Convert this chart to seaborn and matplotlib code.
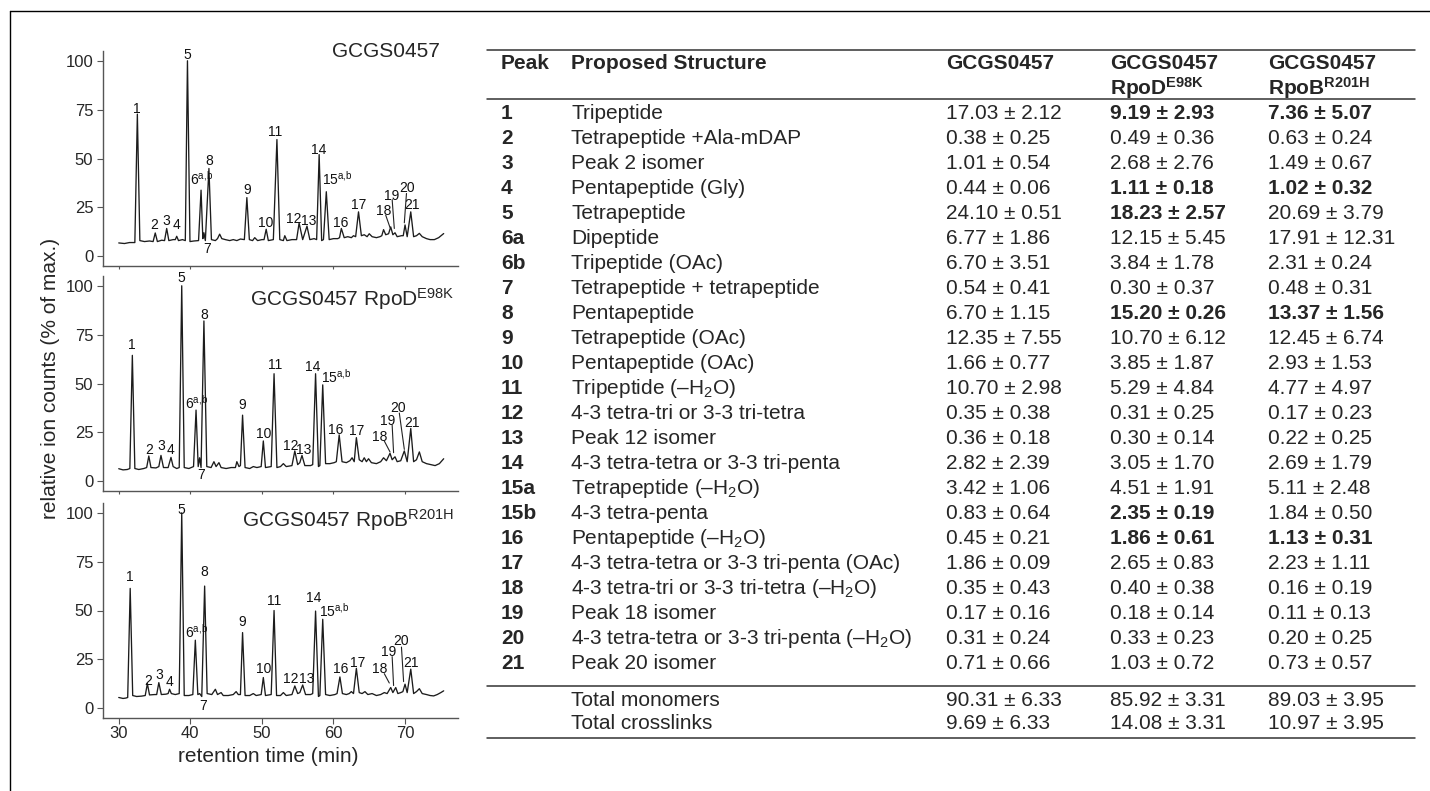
import numpy as np
import pandas as pd
import seaborn as sns
import matplotlib.pyplot as plt

# ---- chromatograms: (retention time [min], relative ion counts [% of max])
trace_wt = [(30.0, 6.8), (30.8, 6.5), (31.5, 7.0), (32.25, 7.0), (32.6, 72.7), (32.95, 8.0), (33.6, 7.5),
            (34.3, 7.8), (34.8, 7.5), (35.1, 11.9), (35.4, 7.5), (36.0, 8.2), (36.4, 8.0), (36.7, 14.2),
            (37.0, 8.0), (37.6, 8.5), (37.9, 8.5), (38.1, 10.2), (38.35, 8.0), (38.9, 8.5), (39.3, 8.0),
            (39.6, 100.0), (39.95, 7.5), (40.5, 7.8), (41.15, 8.0), (41.5, 33.8), (41.75, 9.0), (41.9, 12.0),
            (42.1, 8.0), (42.6, 44.9), (42.95, 8.5), (43.5, 8.0), (43.8, 9.0), (44.1, 11.3), (44.4, 9.0),
            (44.9, 8.5), (45.5, 8.0), (46.0, 8.5), (46.5, 8.0), (47.0, 8.8), (47.55, 8.5), (47.9, 30.0),
            (48.25, 8.5), (48.7, 8.0), (49.0, 9.5), (49.4, 8.0), (50.0, 8.5), (50.3, 8.5), (50.6, 13.8),
            (50.9, 8.0), (51.6, 8.5), (52.1, 59.7), (52.5, 8.5), (53.0, 8.0), (53.2, 10.5), (53.5, 8.0),
            (54.2, 8.5), (54.85, 8.5), (55.2, 17.0), (55.7, 8.5), (56.3, 15.4), (56.7, 8.5), (57.3, 9.0),
            (57.65, 8.5), (58.0, 52.0), (58.35, 8.0), (58.6, 8.5), (59.0, 33.0), (59.4, 8.5), (60.0, 9.0),
            (60.6, 9.0), (60.85, 9.5), (61.1, 14.2), (61.5, 9.5), (62.0, 10.0), (62.5, 9.5), (62.8, 10.5),
            (63.1, 10.0), (63.5, 22.7), (63.9, 10.5), (64.3, 11.0), (64.7, 10.0), (65.0, 11.5), (65.4, 10.0),
            (66.0, 9.5), (66.5, 10.0), (66.75, 10.5), (67.0, 13.6), (67.3, 11.0), (67.7, 11.5), (68.0, 15.0),
            (68.3, 11.0), (68.6, 12.0), (68.9, 10.0), (69.5, 10.5), (69.75, 10.5), (70.0, 16.0), (70.3, 10.0),
            (70.8, 22.7), (71.2, 10.0), (71.6, 10.5), (72.0, 11.7), (72.4, 10.0), (73.0, 9.0), (73.5, 8.5),
            (74.1, 8.5), (74.7, 9.5), (75.4, 11.6)]

trace_rpod = [(30.0, 6.4), (30.6, 5.8), (31.2, 6.0), (31.55, 6.5), (31.9, 64.4), (32.25, 6.5), (32.8, 6.0),
              (33.5, 6.5), (33.9, 7.0), (34.2, 12.9), (34.5, 7.0), (35.2, 6.8), (35.6, 7.5), (35.9, 13.2),
              (36.25, 7.0), (36.9, 7.0), (37.3, 12.2), (37.6, 7.5), (38.1, 6.5), (38.45, 7.0), (38.8, 100.0),
              (39.15, 7.0), (39.8, 6.5), (40.45, 7.5), (40.8, 36.4), (41.1, 7.5), (41.3, 12.0), (41.5, 7.0),
              (41.9, 82.0), (42.3, 7.5), (42.9, 7.0), (43.3, 10.0), (43.6, 7.5), (44.0, 9.5), (44.3, 7.0),
              (45.0, 6.5), (45.7, 7.0), (46.3, 7.0), (46.5, 10.0), (46.8, 7.5), (47.0, 8.0), (47.3, 33.8),
              (47.65, 7.0), (48.3, 6.5), (48.8, 7.5), (49.3, 7.0), (49.9, 7.5), (50.2, 20.6), (50.5, 7.0),
              (51.3, 7.5), (51.7, 55.0), (52.1, 7.0), (52.6, 7.5), (53.0, 9.0), (53.4, 7.5), (54.2, 8.0),
              (54.6, 15.5), (55.0, 8.5), (55.3, 9.5), (55.6, 13.2), (56.0, 8.0), (56.8, 8.0), (57.1, 8.5),
              (57.5, 55.0), (57.9, 7.5), (58.1, 8.0), (58.5, 49.3), (58.9, 9.0), (59.5, 9.0), (60.1, 9.5),
              (60.4, 10.0), (60.8, 23.7), (61.2, 10.0), (61.8, 9.5), (62.3, 10.5), (62.6, 12.0), (62.9, 10.0),
              (63.2, 22.3), (63.6, 11.0), (64.0, 10.0), (64.3, 12.0), (64.6, 10.0), (64.9, 11.5), (65.3, 9.5),
              (66.0, 9.0), (66.6, 10.0), (67.0, 12.0), (67.4, 10.5), (67.9, 14.3), (68.2, 11.0), (68.6, 12.5),
              (68.9, 10.0), (69.4, 10.5), (69.9, 15.5), (70.3, 10.0), (70.8, 27.0), (71.2, 10.0), (71.6, 11.0),
              (72.0, 15.0), (72.4, 10.0), (73.0, 9.0), (73.6, 8.5), (74.2, 8.0), (74.8, 9.0), (75.4, 11.5)]

trace_rpob = [(30.0, 5.5), (30.6, 5.0), (31.0, 5.2), (31.25, 5.5), (31.6, 61.3), (31.95, 6.5), (32.5, 6.0),
              (33.2, 6.2), (33.7, 6.5), (34.0, 12.6), (34.3, 6.8), (35.0, 7.0), (35.3, 7.0), (35.6, 13.1),
              (35.95, 7.0), (36.6, 7.2), (36.9, 7.5), (37.1, 9.7), (37.35, 7.5), (37.9, 7.0), (38.45, 7.5),
              (38.8, 100.0), (39.15, 6.5), (39.8, 6.5), (40.35, 7.0), (40.7, 34.8), (41.05, 7.0), (41.3, 7.5),
              (41.6, 6.0), (42.0, 62.5), (42.35, 7.5), (43.0, 7.0), (43.5, 9.7), (43.8, 7.0), (44.3, 8.0),
              (44.6, 6.5), (45.3, 6.5), (46.0, 7.0), (46.4, 8.5), (46.7, 7.0), (47.0, 7.0), (47.3, 38.7),
              (47.65, 6.5), (48.3, 6.5), (48.8, 7.5), (49.2, 6.5), (49.9, 7.0), (50.2, 15.7), (50.5, 6.5),
              (51.3, 7.0), (51.7, 50.0), (52.05, 6.5), (52.6, 6.5), (53.0, 8.0), (53.4, 6.5), (54.2, 7.0),
              (54.6, 11.4), (55.0, 7.5), (55.3, 8.0), (55.7, 11.9), (56.1, 7.0), (56.8, 7.0), (57.1, 7.5),
              (57.5, 49.7), (57.9, 6.0), (58.1, 6.5), (58.5, 45.5), (58.9, 7.0), (59.5, 6.5), (60.2, 7.0),
              (60.5, 7.5), (60.9, 16.0), (61.25, 7.5), (61.8, 7.0), (62.2, 7.5), (62.5, 8.5), (62.8, 7.5),
              (63.2, 20.4), (63.6, 8.0), (64.0, 7.5), (64.4, 8.5), (64.8, 7.0), (65.4, 7.5), (66.0, 6.5),
              (66.6, 7.0), (67.1, 8.0), (67.5, 7.5), (68.0, 10.6), (68.3, 8.0), (68.7, 10.6), (69.0, 7.5),
              (69.4, 8.0), (69.7, 8.5), (70.0, 12.3), (70.3, 8.0), (70.8, 20.0), (71.2, 7.5), (71.6, 8.5),
              (72.0, 10.0), (72.4, 7.5), (73.0, 7.0), (73.5, 6.5), (74.0, 6.3), (74.5, 7.0), (75.0, 8.0),
              (75.4, 8.9)]

panel_titles = ['GCGS0457', r'GCGS0457 RpoD$^{\mathrm{E98K}}$', r'GCGS0457 RpoB$^{\mathrm{R201H}}$']

# ---- table (muropeptide abundance, % of total)
peaks = ['1', '2', '3', '4', '5', '6a', '6b', '7', '8', '9', '10', '11', '12', '13', '14',
         '15a', '15b', '16', '17', '18', '19', '20', '21']
structures = ['Tripeptide', 'Tetrapeptide +Ala-mDAP', 'Peak 2 isomer', 'Pentapeptide (Gly)',
              'Tetrapeptide', 'Dipeptide', 'Tripeptide (OAc)', 'Tetrapeptide + tetrapeptide',
              'Pentapeptide', 'Tetrapeptide (OAc)', 'Pentapeptide (OAc)', r'Tripeptide (–H$_2$O)',
              '4-3 tetra-tri or 3-3 tri-tetra', 'Peak 12 isomer', '4-3 tetra-tetra or 3-3 tri-penta',
              r'Tetrapeptide (–H$_2$O)', '4-3 tetra-penta', r'Pentapeptide (–H$_2$O)',
              '4-3 tetra-tetra or 3-3 tri-penta (OAc)', r'4-3 tetra-tri or 3-3 tri-tetra (–H$_2$O)',
              'Peak 18 isomer', r'4-3 tetra-tetra or 3-3 tri-penta (–H$_2$O)', 'Peak 20 isomer']
wt_mean = [17.03, 0.38, 1.01, 0.44, 24.10, 6.77, 6.70, 0.54, 6.70, 12.35, 1.66, 10.70, 0.35, 0.36,
           2.82, 3.42, 0.83, 0.45, 1.86, 0.35, 0.17, 0.31, 0.71]
wt_sd = [2.12, 0.25, 0.54, 0.06, 0.51, 1.86, 3.51, 0.41, 1.15, 7.55, 0.77, 2.98, 0.38, 0.18,
         2.39, 1.06, 0.64, 0.21, 0.09, 0.43, 0.16, 0.24, 0.66]
rpod_mean = [9.19, 0.49, 2.68, 1.11, 18.23, 12.15, 3.84, 0.30, 15.20, 10.70, 3.85, 5.29, 0.31, 0.30,
             3.05, 4.51, 2.35, 1.86, 2.65, 0.40, 0.18, 0.33, 1.03]
rpod_sd = [2.93, 0.36, 2.76, 0.18, 2.57, 5.45, 1.78, 0.37, 0.26, 6.12, 1.87, 4.84, 0.25, 0.14,
           1.70, 1.91, 0.19, 0.61, 0.83, 0.38, 0.14, 0.23, 0.72]
rpob_mean = [7.36, 0.63, 1.49, 1.02, 20.69, 17.91, 2.31, 0.48, 13.37, 12.45, 2.93, 4.77, 0.17, 0.22,
             2.69, 5.11, 1.84, 1.13, 2.23, 0.16, 0.11, 0.20, 0.73]
rpob_sd = [5.07, 0.24, 0.67, 0.32, 3.79, 12.31, 0.24, 0.31, 1.56, 6.74, 1.53, 4.97, 0.23, 0.25,
           1.79, 2.48, 0.50, 0.31, 1.11, 0.19, 0.13, 0.25, 0.57]
rpod_bold = ['1', '4', '5', '8', '15b', '16']
rpob_bold = ['1', '4', '8', '16']
total_names = ['Total monomers', 'Total crosslinks']
total_wt = [(90.31, 6.33), (9.69, 6.33)]
total_rpod = [(85.92, 3.31), (14.08, 3.31)]
total_rpob = [(89.03, 3.95), (10.97, 3.95)]

# ---- peak label annotations per panel: (label, x, y of label centre);
# labels with a superscript are given by their left edge
sup6 = r'6$^{\mathrm{a,\!b}}$'
sup15 = r'15$^{\mathrm{a,\!b}}$'
peak_labels = [
    [('1', 32.5, 75.9), ('2', 34.9, 16.7), ('3', 36.7, 18.9), ('4', 38.1, 16.7), ('5', 39.6, 103.4),
     (sup6, 39.9, 39.3), ('7', 42.3, 4.4), ('8', 42.6, 49.2), ('9', 47.9, 34.3),
     ('10', 50.6, 17.6), ('11', 51.9, 64.0), ('12', 54.5, 19.8), ('13', 56.5, 18.9), ('14', 58.0, 55.1),
     (sup15, 58.4, 39.3), ('16', 61.0, 17.6), ('17', 63.5, 27.0), ('18', 67.0, 23.9),
     ('19', 68.1, 31.7), ('20', 70.3, 35.5), ('21', 71.0, 27.0)],
    [('1', 31.8, 70.4), ('2', 34.2, 16.7), ('3', 35.9, 18.9), ('4', 37.3, 16.7), ('5', 38.8, 104.5),
     (sup6, 39.2, 39.9), ('7', 41.5, 3.8), ('8', 41.9, 85.9), ('9', 47.3, 39.9),
     ('10', 50.3, 24.9), ('11', 51.8, 60.1), ('12', 54.0, 18.6), ('13', 55.9, 16.7), ('14', 57.1, 58.9),
     (sup15, 58.2, 53.3), ('16', 60.3, 27.0), ('17', 63.2, 26.6), ('18', 66.5, 23.5),
     ('19', 67.5, 31.3), ('20', 69.0, 38.3), ('21', 71.0, 30.4)],
    [('1', 31.6, 67.6), ('2', 34.1, 14.5), ('3', 35.7, 17.4), ('4', 37.1, 14.3), ('5', 38.8, 102.2),
     (sup6, 39.2, 38.7), ('7', 41.8, 1.7), ('8', 41.9, 70.2), ('9', 47.3, 44.6),
     ('10', 50.2, 20.8), ('11', 51.7, 55.7), ('12', 54.0, 15.7), ('13', 56.3, 15.7), ('14', 57.2, 57.1),
     (sup15, 58.0, 49.7), ('16', 61.0, 20.8), ('17', 63.4, 23.9), ('18', 66.4, 20.8),
     ('19', 67.7, 29.3), ('20', 69.5, 34.9), ('21', 70.8, 23.7)],
]
leaders = [
    [(67.3, 21.0, 67.9, 14.7), (68.2, 29.0, 68.5, 14.2), (70.2, 32.1, 69.9, 17.1)],
    [(67.1, 20.6, 67.9, 15.0), (68.2, 28.7, 68.4, 14.6), (69.2, 34.9, 69.9, 16.3)],
    [(67.1, 17.7, 67.8, 12.9), (68.2, 26.4, 68.4, 11.6), (69.5, 31.3, 69.8, 13.6)],
]

sns.set_theme(style='ticks')
plt.rcParams['font.family'] = ['Liberation Sans', 'DejaVu Sans']
plt.rcParams['mathtext.fontset'] = 'custom'
plt.rcParams['mathtext.rm'] = 'Liberation Sans'
plt.rcParams['mathtext.it'] = 'Liberation Sans:italic'
plt.rcParams['mathtext.bf'] = 'Liberation Sans:bold'

W, H = 1430, 791
fig = plt.figure(figsize=(W / 100, H / 100), dpi=100)

# overlay in pixel coordinates for the table and the frame lines
tab = fig.add_axes([0, 0, 1, 1])
tab.set_xlim(0, W)
tab.set_ylim(H, 0)
tab.axis('off')
tab.plot([10, W], [11, 11], color='black', lw=1)
tab.plot([10, 10], [11, H], color='black', lw=1)

# chromatogram panels
traces = [trace_wt, trace_rpod, trace_rpob]
panel_bottoms = [266, 491, 718]
title_pos = [(0.95, 1.0), (0.99, 0.895), (0.99, 0.92)]
for k, tr in enumerate(traces):
    df = pd.DataFrame(tr, columns=['time', 'ion'])
    ax = fig.add_axes([103 / W, 1 - panel_bottoms[k] / H, 355 / W, 215 / H])
    ax.patch.set_alpha(0)
    sns.lineplot(data=df, x='time', y='ion', ax=ax, color='#1c1c1c', lw=0.95)
    ax.set_xlim(27.8, 77.4)
    ax.set_ylim(-5, 105)
    ax.set_xticks([30, 40, 50, 60, 70])
    ax.set_yticks([0, 25, 50, 75, 100])
    ax.set_xlabel('')
    ax.set_ylabel('')
    sns.despine(ax=ax)
    for sp in ax.spines.values():
        sp.set_color('#555555')
        sp.set_linewidth(1.0)
    ax.tick_params(axis='y', length=4, width=0.8, color='#555555', labelsize=12, pad=3)
    if k < 2:
        ax.tick_params(axis='x', length=2.5, width=0.8, color='#555555', labelbottom=False)
    else:
        ax.tick_params(axis='x', length=4, width=0.8, color='#555555', labelsize=12, pad=2)
    for lab, x, y in peak_labels[k]:
        ax.text(x, y - 2.7, lab, ha='left' if '$' in lab else 'center', va='baseline',
                fontsize=10, color='#111111')
    for x0, y0, x1, y1 in leaders[k]:
        ax.plot([x0, x1], [y0, y1], color='#222222', lw=0.8)
    ax.text(title_pos[k][0], title_pos[k][1], panel_titles[k], transform=ax.transAxes,
            ha='right', va='center', fontsize=15)

fig.text(50 / W, 1 - 378 / H, 'relative ion counts (% of max.)', rotation=90,
         ha='center', va='center', fontsize=15)
fig.text(268 / W, 1 - 757 / H, 'retention time (min)', ha='center', va='center', fontsize=15)

# table
fs = 15
col_x = [501, 571, 946, 1110, 1268]
line_kw = dict(color='#333333', lw=1.1)
tab.plot([487, 1415], [50, 50], **line_kw)
tab.plot([487, 1415], [99, 99], **line_kw)
tab.plot([487, 1415], [686, 686], **line_kw)
tab.plot([487, 1415], [738, 738], **line_kw)

tab.text(col_x[0], 69.3, 'Peak', fontsize=fs, fontweight='bold', va='baseline')
tab.text(col_x[1], 69.3, 'Proposed Structure', fontsize=fs, fontweight='bold', va='baseline')
for cx in col_x[2:]:
    tab.text(cx, 69.3, 'GCGS0457', fontsize=fs, fontweight='bold', va='baseline')
tab.text(col_x[3], 95, r'RpoD$^{\mathbf{E98K}}$', fontsize=fs, fontweight='bold', va='baseline')
tab.text(col_x[4], 95, r'RpoB$^{\mathbf{R201H}}$', fontsize=fs, fontweight='bold', va='baseline')

for r, pk in enumerate(peaks):
    yb = 119 + r * 25
    tab.text(col_x[0], yb, pk, fontsize=fs, fontweight='bold', va='baseline')
    tab.text(col_x[1], yb, structures[r], fontsize=fs, va='baseline')
    tab.text(col_x[2], yb, f'{wt_mean[r]:.2f} ± {wt_sd[r]:.2f}', fontsize=fs, va='baseline')
    tab.text(col_x[3], yb, f'{rpod_mean[r]:.2f} ± {rpod_sd[r]:.2f}', fontsize=fs, va='baseline',
             fontweight='bold' if pk in rpod_bold else 'normal')
    tab.text(col_x[4], yb, f'{rpob_mean[r]:.2f} ± {rpob_sd[r]:.2f}', fontsize=fs, va='baseline',
             fontweight='bold' if pk in rpob_bold else 'normal')

for r, name in enumerate(total_names):
    yb = 706.5 + r * 22.5
    tab.text(col_x[1], yb, name, fontsize=fs, va='baseline')
    for cx, vals in zip(col_x[2:], [total_wt, total_rpod, total_rpob]):
        tab.text(cx, yb, f'{vals[r][0]:.2f} ± {vals[r][1]:.2f}', fontsize=fs, va='baseline')

fig.savefig('out.png', dpi=100)
